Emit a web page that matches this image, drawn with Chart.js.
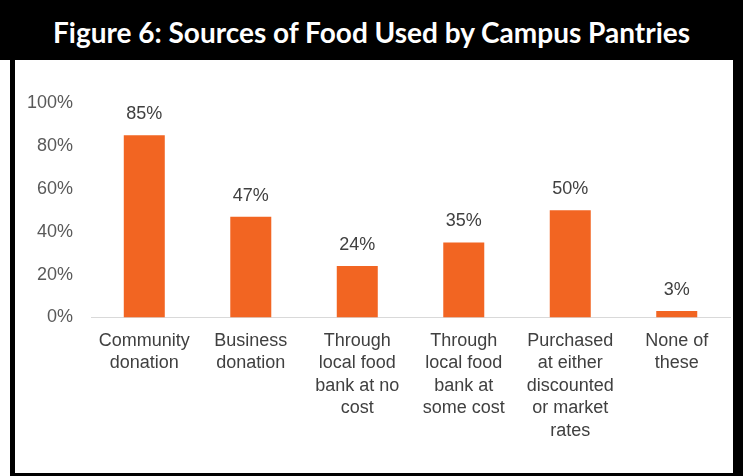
<!DOCTYPE html>
<html>
<head>
<meta charset="utf-8">
<script src="https://cdn.jsdelivr.net/npm/chart.js@4"></script>
<style>
  body { margin: 0; background: #fff; width: 743px; height: 476px; position: relative; overflow: hidden; }
  #frame { position: absolute; left: 10px; top: 0; width: 733px; height: 476px; background: #000; }
  #title { position: absolute; left: 0; top: 0; width: 743px; height: 60px; background: #000; color: #fff;
           font-family: Lato, sans-serif; font-weight: bold; font-size: 28px; line-height: 64px; text-align: center; }
  #panel { position: absolute; left: 15px; top: 60px; width: 718px; height: 413px; background: #fff; }
</style>
</head>
<body>
<div id="frame"></div>
<div id="title">Figure 6: Sources of Food Used by Campus Pantries</div>
<div id="panel"><canvas id="chart"></canvas></div>
<script>
const categories = [
  ['Community', 'donation'],
  ['Business', 'donation'],
  ['Through', 'local food', 'bank at no', 'cost'],
  ['Through', 'local food', 'bank at', 'some cost'],
  ['Purchased', 'at either', 'discounted', 'or market', 'rates'],
  ['None of', 'these']
];
const percentages = [85, 47, 24, 35, 50, 3];
const yTicks = [0, 20, 40, 60, 80, 100];

// draws the "85%" labels above each bar
const valueLabels = {
  id: 'valueLabels',
  afterDatasetsDraw(chart) {
    const ctx = chart.ctx;
    const meta = chart.getDatasetMeta(0);
    ctx.save();
    ctx.fillStyle = '#404040';
    ctx.font = '18px "Liberation Sans", Arial, sans-serif';
    ctx.textAlign = 'center';
    ctx.textBaseline = 'middle';
    meta.data.forEach((bar, i) => {
      ctx.fillText(percentages[i] + '%', bar.x, bar.y - 21);
    });
    ctx.restore();
  }
};

new Chart(document.getElementById('chart'), {
  type: 'bar',
  data: {
    labels: categories,
    datasets: [{
      data: percentages,
      backgroundColor: '#F26522',
      barPercentage: 0.385,
      categoryPercentage: 1
    }]
  },
  options: {
    responsive: true,
    maintainAspectRatio: false,
    animation: false,
    // y ticks padding is counted twice by chart.js, so pull the left edge back
    layout: { padding: { top: 43, right: 3, bottom: 19, left: -6 } },
    plugins: { legend: { display: false }, tooltip: { enabled: false } },
    scales: {
      x: {
        grid: { display: false, drawTicks: false },
        border: { display: true, color: '#d9d9d9', width: 1 },
        ticks: {
          color: '#404040',
          padding: 12,
          maxRotation: 0,
          autoSkip: false,
          font: { family: '"Liberation Sans", Arial, sans-serif', size: 18, lineHeight: 1.25 }
        }
      },
      y: {
        min: 0,
        max: 100,
        afterBuildTicks(axis) { axis.ticks = yTicks.map(v => ({ value: v })); },
        grid: { display: false, drawTicks: false },
        border: { display: false },
        ticks: {
          color: '#595959',
          padding: 18,
          callback: v => v + '%',
          font: { family: '"Liberation Sans", Arial, sans-serif', size: 18 }
        }
      }
    }
  },
  plugins: [valueLabels]
});
</script>
</body>
</html>
